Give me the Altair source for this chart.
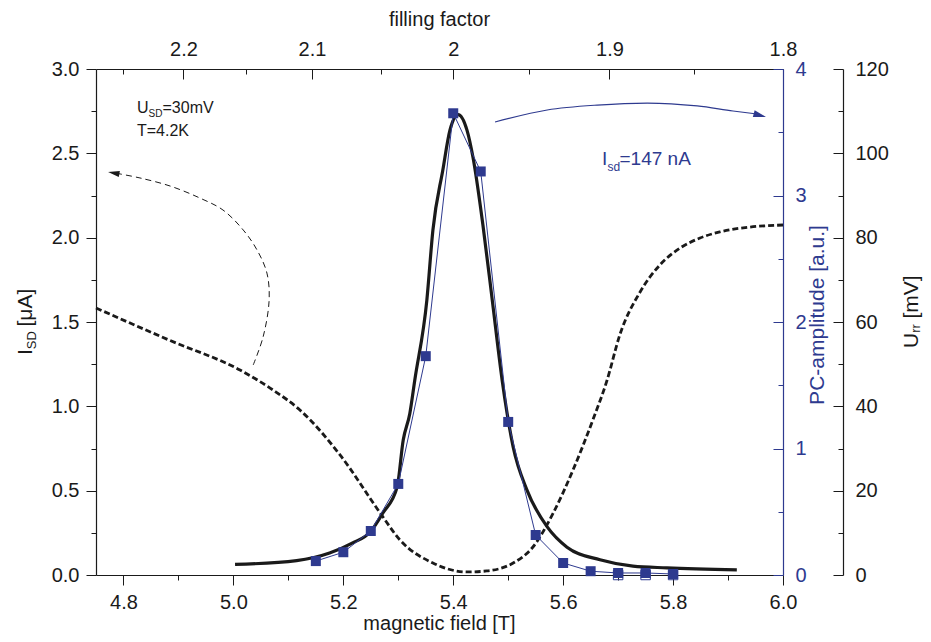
import altair as alt
import pandas as pd

# ---------------- data ----------------
# dashed curve: I_SD [uA] vs magnetic field [T]
B_dash = [4.750, 4.885, 5.012, 5.072, 5.121, 5.194, 5.267, 5.303, 5.363, 5.425, 5.461,
          5.509, 5.545, 5.582, 5.618, 5.654, 5.680, 5.703, 5.740, 5.776, 5.813, 5.849,
          5.885, 5.940, 6.000]
I_dash = [1.583, 1.390, 1.215, 1.097, 0.978, 0.712, 0.368, 0.208, 0.071, 0.018, 0.024,
          0.071, 0.166, 0.368, 0.623, 0.919, 1.156, 1.423, 1.678, 1.838, 1.939, 1.998,
          2.034, 2.063, 2.075]

# solid curve: U_rr [mV] vs magnetic field [T]
B_solid = [5.003, 5.115, 5.175, 5.217, 5.249, 5.272, 5.298, 5.309, 5.321, 5.330, 5.352,
           5.363, 5.381, 5.394, 5.409, 5.425, 5.436, 5.454, 5.471, 5.489, 5.509, 5.534,
           5.571, 5.607, 5.667, 5.727, 5.789, 5.916]
U_solid = [2.5, 3.4, 5.2, 7.6, 10.2, 14.7, 20.9, 32.0, 38.3, 46.2, 65.2,
           81.8, 96.0, 105.5, 109.2, 105.5, 99.0, 83.0, 65.2, 46.2, 30.4, 20.2,
           11.4, 6.6, 3.6, 2.1, 1.7, 1.2]

# PC amplitude [a.u.] (squares)
B_pc = [5.15, 5.20, 5.25, 5.30, 5.35, 5.40, 5.45, 5.50, 5.55, 5.60, 5.65, 5.70, 5.75, 5.80]
PC_val = [0.11, 0.18, 0.348, 0.72, 1.73, 3.65, 3.19, 1.21, 0.316, 0.095, 0.03, 0.016, 0.016, 0.008]
B_open = [5.70, 5.75, 5.80]
PC_open = [0.0, 0.0, 0.0]

# annotation arrows (in data units)
arrow_black_B = [5.036, 5.054, 5.065, 5.061, 5.043, 5.018, 4.981, 4.939, 4.885, 4.830, 4.790]
arrow_black_I = [1.245, 1.411, 1.630, 1.790, 1.927, 2.045, 2.164, 2.235, 2.306, 2.354, 2.380]
arrow_black_tip = (4.772, 2.389)
arrow_blue_B = [5.476, 5.571, 5.662, 5.753, 5.844, 5.909, 5.953]
arrow_blue_PC = [3.581, 3.676, 3.715, 3.731, 3.708, 3.668, 3.644]
arrow_blue_tip = (5.969, 3.621)

# tick values
x_major = [4.8, 5.0, 5.2, 5.4, 5.6, 5.8, 6.0]
x_minor = [4.9, 5.1, 5.3, 5.5, 5.7, 5.9]
i_major = [0.0, 0.5, 1.0, 1.5, 2.0, 2.5, 3.0]
i_minor = [0.25, 0.75, 1.25, 1.75, 2.25, 2.75]
nu_major = [2.2, 2.1, 2.0, 1.9, 1.8]
nu_minor = [2.25, 2.15, 2.05, 1.95, 1.85]
pc_major = [0, 1, 2, 3, 4]
pc_minor = [0.5, 1.5, 2.5, 3.5]
u_major = [0, 20, 40, 60, 80, 100, 120]
u_minor = [10, 30, 50, 70, 90, 110]
NU_B = 10.8  # filling factor * B  (nu = 2 at 5.4 T)

# ---------------- style ----------------
FONT = "Liberation Sans"
BLUE = "#2e3a8f"
INK = "#1a1a1a"
W, H = 687, 506
LBL = 20
TTL = 21

xs = alt.Scale(domain=[4.75, 6.0], nice=False, zero=False)
nus = alt.Scale(type="pow", exponent=-1, domain=[NU_B / 4.75, NU_B / 6.0], nice=False, zero=False)
iscale = alt.Scale(domain=[0, 3], nice=False, zero=False)
pcs = alt.Scale(domain=[0, 4], nice=False, zero=False)
us = alt.Scale(domain=[0, 120], nice=False, zero=False)


def ax(**kw):
    base = dict(grid=False, title=None, labelFont=FONT, labelFontSize=LBL, labelColor=INK,
                tickColor=INK, domainColor=INK, domainWidth=1.2, tickWidth=1,
                labelFlush=False, labelOverlap=False)
    base.update(kw)
    return alt.Axis(**base)


def axis_layer(vals, channel, scale, axis):
    df = pd.DataFrame({"v": vals})
    enc = alt.X("v:Q", scale=scale, axis=axis) if channel == "x" else alt.Y("v:Q", scale=scale, axis=axis)
    return alt.Chart(df).mark_point(opacity=0).encode(**{channel: enc})


layers = []
# bottom axis
layers.append(axis_layer(x_major, "x", xs, ax(orient="bottom", values=x_major, format=".1f",
                                               tickSize=10, labelPadding=7)))
layers.append(axis_layer(x_minor, "x", xs, ax(orient="bottom", values=x_minor, tickSize=5,
                                               labels=False, domain=False)))
# left axis
layers.append(axis_layer(i_major, "y", iscale, ax(orient="left", values=i_major, format=".1f",
                                                   tickSize=10, labelPadding=7)))
layers.append(axis_layer(i_minor, "y", iscale, ax(orient="left", values=i_minor, tickSize=5,
                                                   labels=False, domain=False)))
# top axis (filling factor)
layers.append(axis_layer(nu_major, "x", nus, ax(orient="top", values=nu_major, format="~g",
                                                 ticks=False, tickSize=0, labelPadding=10)))
layers.append(axis_layer(nu_major, "x", nus, ax(orient="bottom", offset=-H, values=nu_major,
                                                 tickSize=10, labels=False, domain=False)))
layers.append(axis_layer(nu_minor, "x", nus, ax(orient="bottom", offset=-H, values=nu_minor,
                                                 tickSize=5, labels=False, domain=False)))
# PC axis (right, blue)
layers.append(axis_layer(pc_major, "y", pcs, ax(orient="right", values=pc_major, format="d",
                                                 ticks=False, tickSize=0, labelPadding=12,
                                                 labelColor=BLUE, domainColor=BLUE)))
layers.append(axis_layer(pc_major, "y", pcs, ax(orient="left", offset=-W, values=pc_major,
                                                 tickSize=10, labels=False, domain=False,
                                                 tickColor=BLUE)))
layers.append(axis_layer(pc_minor, "y", pcs, ax(orient="left", offset=-W, values=pc_minor,
                                                 tickSize=5, labels=False, domain=False,
                                                 tickColor=BLUE)))
# U_rr axis (far right)
layers.append(axis_layer(u_major, "y", us, ax(orient="right", offset=60, values=u_major, format="d",
                                               ticks=False, tickSize=0, labelPadding=12)))
layers.append(axis_layer(u_major, "y", us, ax(orient="left", offset=-(W + 60), values=u_major,
                                               tickSize=10, labels=False, domain=False)))
layers.append(axis_layer(u_minor, "y", us, ax(orient="left", offset=-(W + 60), values=u_minor,
                                               tickSize=5, labels=False, domain=False)))

# ---------------- data marks ----------------
dash_df = pd.DataFrame({"B": B_dash, "I": I_dash})
layers.append(alt.Chart(dash_df).mark_line(color=INK, strokeWidth=2.8, strokeDash=[6, 3],
                                           interpolate="monotone").encode(
    x=alt.X("B:Q", scale=xs, axis=None), y=alt.Y("I:Q", scale=iscale, axis=None)))

solid_df = pd.DataFrame({"B": B_solid, "U": U_solid})
layers.append(alt.Chart(solid_df).mark_line(color=INK, strokeWidth=3.2,
                                            interpolate="monotone").encode(
    x=alt.X("B:Q", scale=xs, axis=None), y=alt.Y("U:Q", scale=us, axis=None)))

pc_df = pd.DataFrame({"B": B_pc, "PC": PC_val})
layers.append(alt.Chart(pc_df).mark_line(color=BLUE, strokeWidth=1).encode(
    x=alt.X("B:Q", scale=xs, axis=None), y=alt.Y("PC:Q", scale=pcs, axis=None)))

open_df = pd.DataFrame({"B": B_open, "PC": PC_open})
layers.append(alt.Chart(open_df).mark_square(filled=False, color=BLUE, size=90, strokeWidth=1,
                                             opacity=1).encode(
    x=alt.X("B:Q", scale=xs, axis=None), y=alt.Y("PC:Q", scale=pcs, axis=None)))

layers.append(alt.Chart(pc_df).mark_square(filled=True, color=BLUE, size=100, opacity=1).encode(
    x=alt.X("B:Q", scale=xs, axis=None), y=alt.Y("PC:Q", scale=pcs, axis=None)))

# ---------------- annotation arrows ----------------
ab_df = pd.DataFrame({"B": arrow_black_B, "I": arrow_black_I, "k": list(range(len(arrow_black_B)))})
layers.append(alt.Chart(ab_df).mark_line(color=INK, strokeWidth=1, strokeDash=[6, 4],
                                         interpolate="catmull-rom").encode(
    x=alt.X("B:Q", scale=xs, axis=None), y=alt.Y("I:Q", scale=iscale, axis=None),
    order=alt.Order("k:Q")))
HEAD = "M0,0L-2,-0.55L-2,0.55Z"
layers.append(alt.Chart(pd.DataFrame({"B": [arrow_black_tip[0]], "I": [arrow_black_tip[1]]}))
              .mark_point(shape=HEAD, filled=True, color=INK, size=130, angle=190, opacity=1)
              .encode(x=alt.X("B:Q", scale=xs, axis=None), y=alt.Y("I:Q", scale=iscale, axis=None)))

abl_df = pd.DataFrame({"B": arrow_blue_B, "PC": arrow_blue_PC})
layers.append(alt.Chart(abl_df).mark_line(color=BLUE, strokeWidth=1.2, interpolate="monotone").encode(
    x=alt.X("B:Q", scale=xs, axis=None), y=alt.Y("PC:Q", scale=pcs, axis=None)))
layers.append(alt.Chart(pd.DataFrame({"B": [arrow_blue_tip[0]], "PC": [arrow_blue_tip[1]]}))
              .mark_point(shape=HEAD, filled=True, color=BLUE, size=160, angle=15, opacity=1)
              .encode(x=alt.X("B:Q", scale=xs, axis=None), y=alt.Y("PC:Q", scale=pcs, axis=None)))


# ---------------- texts ----------------
def txt(s, x, y, size, color=INK, angle=0, align="left", baseline="alphabetic"):
    return alt.Chart(pd.DataFrame({"t": [s]})).mark_text(
        font=FONT, fontSize=size, color=color, angle=angle, align=align, baseline=baseline
    ).encode(x=alt.value(x), y=alt.value(y), text="t:N")


# axis titles
layers.append(txt("magnetic field [T]", W / 2, 561, 20, align="center"))
layers.append(txt("filling factor", W / 2, -43, 20, align="center"))
# left: I_SD [uA]  (rotated)
layers.append(txt("I", -64, 286, TTL, angle=270))
layers.append(txt("SD", -60, 280.2, 13, angle=270))
layers.append(txt("[\u03bcA]", -64, 257.5, TTL, angle=270))
# PC-amplitude
layers.append(txt("PC-amplitude [a.u.]", 728, 246, TTL, color=BLUE, angle=270, align="center"))
# U_rr [mV]
layers.append(txt("U", 822, 279, TTL, angle=270))
layers.append(txt("rr", 824, 263.8, 13, angle=270))
layers.append(txt("[mV]", 822, 249.5, TTL, angle=270))

# in-plot annotations
layers.append(txt("U", 41, 43.7, 16))
layers.append(txt("SD", 52.6, 48, 10))
layers.append(txt("=30mV", 66.5, 43.7, 16))
layers.append(txt("T=4.2K", 41, 67, 16))
layers.append(txt("I", 506, 96, 19, color=BLUE))
layers.append(txt("sd", 511.5, 101.5, 12, color=BLUE))
layers.append(txt("=147 nA", 523.5, 96, 19, color=BLUE))

chart = (
    alt.layer(*layers)
    .resolve_scale(x="independent", y="independent")
    .resolve_axis(x="independent", y="independent")
    .properties(width=W, height=H,
                padding={"left": 88, "top": 61, "right": 140, "bottom": 59},
                autosize=alt.AutoSizeParams(type="none"))
    .configure_view(stroke=None)
)

chart.save("out.html", embed_options={"renderer": "svg", "actions": False})
